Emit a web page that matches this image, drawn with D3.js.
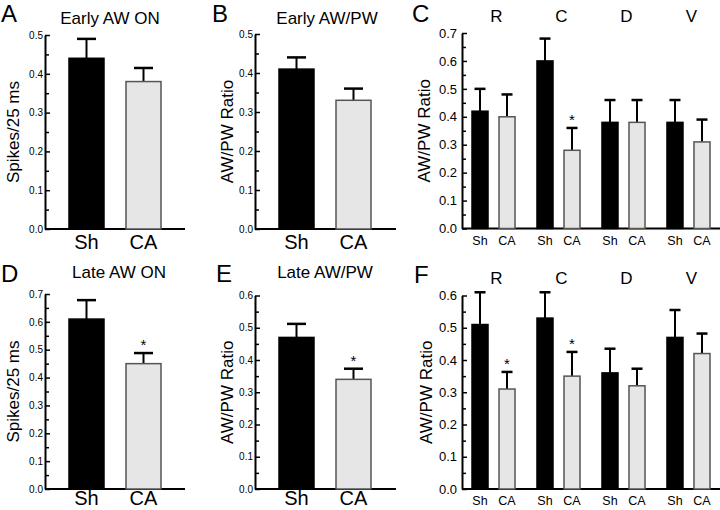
<!DOCTYPE html>
<html>
<head>
<meta charset="utf-8">
<script src="https://cdn.jsdelivr.net/npm/d3@7"></script>
<style>
  body { margin: 0; background: #fff; }
  svg text { font-family: 'Liberation Sans', Arial, sans-serif; fill: #000; }
  svg text.narrow { font-family: 'Liberation Sans Narrow', 'Arial Narrow', sans-serif; font-stretch: condensed; }
</style>
</head>
<body>
<div id="chart"></div>
<script>
// groups and regions
const groups = ['Sh', 'CA'];
const regions = ['R', 'C', 'D', 'V'];

// A: Early AW ON (spikes/25 ms), mean and SEM
const earlyOnMean = [0.44, 0.38];
const earlyOnErr = [0.05, 0.035];
// B: Early AW/PW ratio
const earlyRatioMean = [0.41, 0.33];
const earlyRatioErr = [0.03, 0.03];
// D: Late AW ON
const lateOnMean = [0.61, 0.45];
const lateOnErr = [0.068, 0.038];
const lateOnSig = [false, true];
// E: Late AW/PW
const lateRatioMean = [0.47, 0.34];
const lateRatioErr = [0.042, 0.033];
const lateRatioSig = [false, true];

// C: early AW/PW ratio by region
const earlyShMean = [0.42, 0.60, 0.38, 0.38];
const earlyShErr = [0.08, 0.08, 0.08, 0.08];
const earlyCAMean = [0.40, 0.28, 0.38, 0.31];
const earlyCAErr = [0.08, 0.08, 0.08, 0.08];
const earlyCASig = [false, true, false, false];

// F: late AW/PW ratio by region
const lateShMean = [0.51, 0.53, 0.36, 0.47];
const lateShErr = [0.10, 0.08, 0.075, 0.085];
const lateCAMean = [0.31, 0.35, 0.32, 0.42];
const lateCAErr = [0.053, 0.075, 0.053, 0.062];
const lateCASig = [true, true, false, false];

const fills = { Sh: '#000', CA: '#e6e6e6' };
const strokes = { Sh: '#000', CA: '#555' };

const svg = d3.select('#chart').append('svg')
    .attr('width', 720)
    .attr('height', 510);

function drawYAxis(p, y, max, narrow) {
    const n = Math.round(max * 10);
    const major = d3.range(n + 1).map(i => i / 10);
    const minor = d3.range(n).map(i => i / 10 + 0.05);

    svg.append('g')
        .attr('transform', `translate(${p.ax},0)`)
        .call(d3.axisLeft(y).tickValues(minor).tickSizeInner(-4).tickSizeOuter(0).tickFormat(''))
        .call(g => g.select('.domain').remove())
        .selectAll('line').attr('stroke-width', 1.5);

    const ax = svg.append('g')
        .attr('transform', `translate(${p.ax},0)`)
        .call(d3.axisLeft(y).tickValues(major).tickSizeInner(-5).tickSizeOuter(0)
            .tickPadding(narrow ? 2 : 5).tickFormat(d3.format('.1f')));
    ax.select('.domain').attr('stroke-width', 2);
    ax.selectAll('line').attr('stroke-width', 1.5);
    ax.selectAll('text')
        .attr('class', narrow ? 'narrow' : null)
        .style('font-size', narrow ? '10px' : '13px')
        .style('font-family', null);

    // x axis baseline
    svg.append('line')
        .attr('x1', p.ax).attr('x2', p.ax + p.len)
        .attr('y1', y(0)).attr('y2', y(0))
        .attr('stroke', '#000').attr('stroke-width', 2);
}

function drawLabels(p, y) {
    svg.append('text')
        .attr('x', p.letterX).attr('y', p.letterY)
        .style('font-size', '24px')
        .text(p.letter);

    if (p.title) {
        svg.append('text')
            .attr('x', p.titleX).attr('y', p.titleY)
            .attr('text-anchor', 'middle')
            .style('font-size', '17px')
            .text(p.title);
    }

    const yc = (y.range()[0] + y.range()[1]) / 2;
    svg.append('text')
        .attr('transform', `translate(${p.labelX},${yc}) rotate(-90)`)
        .attr('text-anchor', 'middle')
        .style('font-size', '17px')
        .text(p.ylabel);
}

function errorBar(x, w, y, mean, err, cap, sig) {
    svg.append('line')
        .attr('x1', x + w / 2).attr('x2', x + w / 2)
        .attr('y1', y(mean)).attr('y2', y(mean + err))
        .attr('stroke', '#000').attr('stroke-width', 2);
    svg.append('line')
        .attr('x1', x + w / 2 - cap / 2).attr('x2', x + w / 2 + cap / 2)
        .attr('y1', y(mean + err)).attr('y2', y(mean + err))
        .attr('stroke', '#000').attr('stroke-width', 2.5);
    if (sig) {
        svg.append('text')
            .attr('x', x + w / 2).attr('y', y(mean + err) - 3)
            .attr('text-anchor', 'middle')
            .style('font-size', '15px')
            .text('*');
    }
}

function drawSimple(p, means, errs, sig) {
    const y = d3.scaleLinear().domain([0, p.max]).range([p.bottom, p.top]);
    const x = d3.scaleBand().domain(groups)
        .range([p.ax + 24, p.ax + 116]).paddingInner(0.386);

    drawYAxis(p, y, p.max, true);

    const data = groups.map((g, i) => ({ g, mean: means[i], err: errs[i], sig: sig ? sig[i] : false }));

    data.forEach(d => errorBar(x(d.g), x.bandwidth(), y, d.mean, d.err, 19, d.sig));

    svg.append('g').selectAll('rect')
        .data(data)
        .join('rect')
        .attr('x', d => x(d.g))
        .attr('y', d => y(d.mean))
        .attr('width', x.bandwidth())
        .attr('height', d => y(0) - y(d.mean))
        .attr('fill', d => fills[d.g])
        .attr('stroke', d => strokes[d.g])
        .attr('stroke-width', 1.5);

    // keep the bottom row labels inside the page
    svg.append('g').selectAll('text')
        .data(groups)
        .join('text')
        .attr('x', d => x(d) + x.bandwidth() / 2)
        .attr('y', Math.min(y(0) + 20, 505))
        .attr('text-anchor', 'middle')
        .style('font-size', '20px')
        .text(d => d);

    drawLabels(p, y);
}

function drawGrouped(p, shMean, shErr, caMean, caErr, caSig) {
    const y = d3.scaleLinear().domain([0, p.max]).range([p.bottom, p.top]);
    const x0 = d3.scaleBand().domain(regions)
        .range([p.ax + 10, p.ax + 248]).paddingInner(0.338);
    const x1 = d3.scaleBand().domain(groups)
        .range([0, x0.bandwidth()]).paddingInner(0.407);

    drawYAxis(p, y, p.max, false);

    const data = [];
    regions.forEach((r, i) => {
        data.push({ r, g: 'Sh', mean: shMean[i], err: shErr[i], sig: false });
        data.push({ r, g: 'CA', mean: caMean[i], err: caErr[i], sig: caSig[i] });
    });

    data.forEach(d => errorBar(x0(d.r) + x1(d.g), x1.bandwidth(), y, d.mean, d.err, 11, d.sig));

    svg.append('g').selectAll('rect')
        .data(data)
        .join('rect')
        .attr('x', d => x0(d.r) + x1(d.g))
        .attr('y', d => y(d.mean))
        .attr('width', x1.bandwidth())
        .attr('height', d => y(0) - y(d.mean))
        .attr('fill', d => fills[d.g])
        .attr('stroke', d => strokes[d.g])
        .attr('stroke-width', 1.5);

    svg.append('g').selectAll('text')
        .data(data)
        .join('text')
        .attr('x', d => x0(d.r) + x1(d.g) + x1.bandwidth() / 2)
        .attr('y', Math.min(y(0) + 16, 505))
        .attr('text-anchor', 'middle')
        .style('font-size', '12.5px')
        .text(d => d.g);

    svg.append('g').selectAll('text')
        .data(regions)
        .join('text')
        .attr('x', d => x0(d) + x0.bandwidth() / 2 + 3)
        .attr('y', p.regionY)
        .attr('text-anchor', 'middle')
        .style('font-size', '17px')
        .text(d => d);

    drawLabels(p, y);
}

drawSimple({ ax: 45, len: 140, top: 35, bottom: 229, max: 0.5,
    letter: 'A', letterX: 1, letterY: 22, title: 'Early AW ON', titleX: 110, titleY: 24,
    ylabel: 'Spikes/25 ms', labelX: 19 }, earlyOnMean, earlyOnErr, null);

drawSimple({ ax: 255, len: 141, top: 34, bottom: 229, max: 0.5,
    letter: 'B', letterX: 212, letterY: 22, title: 'Early AW/PW', titleX: 327, titleY: 24,
    ylabel: 'AW/PW Ratio', labelX: 233 }, earlyRatioMean, earlyRatioErr, null);

drawGrouped({ ax: 462, len: 258, top: 33, bottom: 228.5, max: 0.7,
    letter: 'C', letterX: 412, letterY: 22, regionY: 22,
    ylabel: 'AW/PW Ratio', labelX: 430 }, earlyShMean, earlyShErr, earlyCAMean, earlyCAErr, earlyCASig);

drawSimple({ ax: 45, len: 140, top: 294, bottom: 489, max: 0.7,
    letter: 'D', letterX: 1, letterY: 282, title: 'Late AW ON', titleX: 119, titleY: 278,
    ylabel: 'Spikes/25 ms', labelX: 19 }, lateOnMean, lateOnErr, lateOnSig);

drawSimple({ ax: 255, len: 141, top: 295.5, bottom: 489, max: 0.6,
    letter: 'E', letterX: 216, letterY: 282, title: 'Late AW/PW', titleX: 325, titleY: 278,
    ylabel: 'AW/PW Ratio', labelX: 233 }, lateRatioMean, lateRatioErr, lateRatioSig);

drawGrouped({ ax: 462, len: 258, top: 295.5, bottom: 489, max: 0.6,
    letter: 'F', letterX: 414, letterY: 283, regionY: 284,
    ylabel: 'AW/PW Ratio', labelX: 432 }, lateShMean, lateShErr, lateCAMean, lateCAErr, lateCASig);
</script>
</body>
</html>
